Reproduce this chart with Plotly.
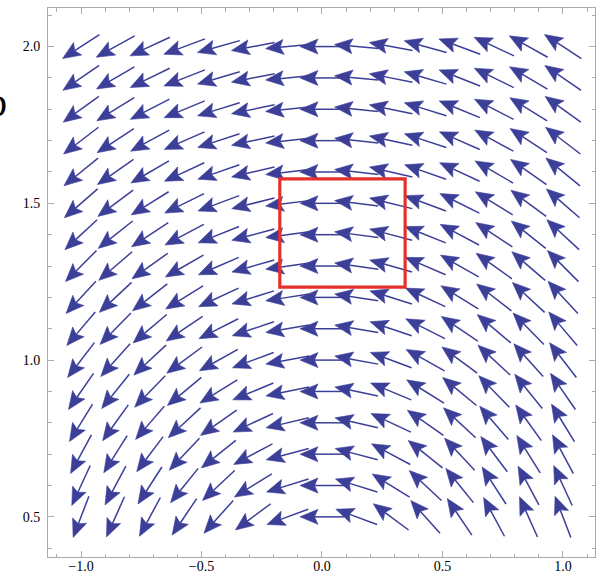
import math
import plotly.graph_objects as go

# ---- data ----
x_grid = [-1.0, -0.857, -0.714, -0.571, -0.429, -0.286, -0.143, 0.0,
          0.143, 0.286, 0.429, 0.571, 0.714, 0.857, 1.0]
y_grid = [0.5, 0.6, 0.7, 0.8, 0.9, 1.0, 1.1, 1.2, 1.3, 1.4, 1.5,
          1.6, 1.7, 1.8, 1.9, 2.0]
# horizontal component of the vectors in each row (bottom -> top)
u_row = [-0.5, -0.6, -0.7, -0.8, -0.9, -1.0, -1.1, -1.2, -1.3, -1.4, -1.5,
         -1.6, -1.7, -1.8, -1.9, -2.0]
# vertical component of the vectors in each column (left -> right)
v_col = [-1.0, -0.857, -0.714, -0.571, -0.429, -0.286, -0.143, 0.0,
         0.143, 0.286, 0.429, 0.571, 0.714, 0.857, 1.0]
box_x = [-0.175, 0.345]
box_y = [1.233, 1.578]

# ---- layout / style constants ----
W, H = 605, 576
ML, MR, MT, MB = 48, 10, 8, 19
XR = [-1.137, 1.133]
YR = [0.372, 2.123]
pw, ph = W - ML - MR, H - MT - MB
sx = pw / (XR[1] - XR[0])   # pixels per x unit
sy = ph / (YR[1] - YR[0])   # pixels per y unit
L = 44        # arrow length (px)
HL = 18       # head length (px)
HW = 15       # head width (px)
NOTCH = 3.5   # notch depth (px)
COL = "#3C3F98"
FRAME = "#ABABAB"

shaft_x, shaft_y, head_x, head_y = [], [], [], []
for j, yv in enumerate(y_grid):
    for i, xv in enumerate(x_grid):
        px, py = u_row[j] * sx, v_col[i] * sy
        n = math.hypot(px, py)
        dx, dy = px / n, py / n          # unit direction in pixel space
        nx, ny = -dy, dx                 # normal

        def pt(a, b):
            # a along the direction, b along the normal (pixels from centre)
            return (xv + (a * dx + b * nx) / sx, yv + (a * dy + b * ny) / sy)

        tail = pt(-L / 2, 0)
        neck = pt(L / 2 - HL + NOTCH + 0.5, 0)
        shaft_x += [tail[0], neck[0], None]
        shaft_y += [tail[1], neck[1], None]
        tip = pt(L / 2, 0)
        c1 = pt(L / 2 - HL, HW / 2)
        notch = pt(L / 2 - HL + NOTCH, 0)
        c2 = pt(L / 2 - HL, -HW / 2)
        for p in (tip, c1, notch, c2, tip):
            head_x.append(p[0])
            head_y.append(p[1])
        head_x.append(None)
        head_y.append(None)

fig = go.Figure()
fig.add_trace(go.Scatter(x=shaft_x, y=shaft_y, mode="lines",
                         line=dict(color=COL, width=1.5),
                         hoverinfo="skip", showlegend=False))
fig.add_trace(go.Scatter(x=head_x, y=head_y, mode="lines", fill="toself",
                         fillcolor=COL, line=dict(color=COL, width=0.6),
                         hoverinfo="skip", showlegend=False))

fig.add_shape(type="rect", x0=box_x[0], x1=box_x[1], y0=box_y[0], y1=box_y[1],
              xref="x", yref="y", line=dict(color="#E5312A", width=3.2))

fig.add_annotation(
    x=(9 - ML) / pw, y=1 - (78 - MT) / ph, xref="paper", yref="paper",
    xanchor="right", yanchor="top", text="b", showarrow=False,
    font=dict(family="Liberation Serif", size=40, color="black"),
)

axis_common = dict(
    showline=True, linecolor=FRAME, linewidth=1, mirror="allticks",
    ticks="inside", ticklen=6, tickcolor=FRAME, tickwidth=1,
    showgrid=False, zeroline=False, tickformat=".1f", automargin=False,
    tickfont=dict(family="Liberation Serif", size=14, color="black"),
    minor=dict(ticks="inside", ticklen=3.5, tickcolor=FRAME, dtick=0.1,
               tick0=0, showgrid=False),
    tickmode="linear", tick0=0, dtick=0.5,
)
fig.update_layout(
    width=W, height=H,
    margin=dict(l=ML, r=MR, t=MT, b=MB, pad=0, autoexpand=False),
    paper_bgcolor="white", plot_bgcolor="white",
    xaxis=dict(range=XR, ticklabelstandoff=-4, **axis_common),
    yaxis=dict(range=YR, ticklabelstandoff=4, **axis_common),
    showlegend=False,
)
fig.write_html("out.html", config={"displayModeBar": False},
               post_script="document.body.style.margin='0';"
                           "document.body.style.overflow='hidden';")
